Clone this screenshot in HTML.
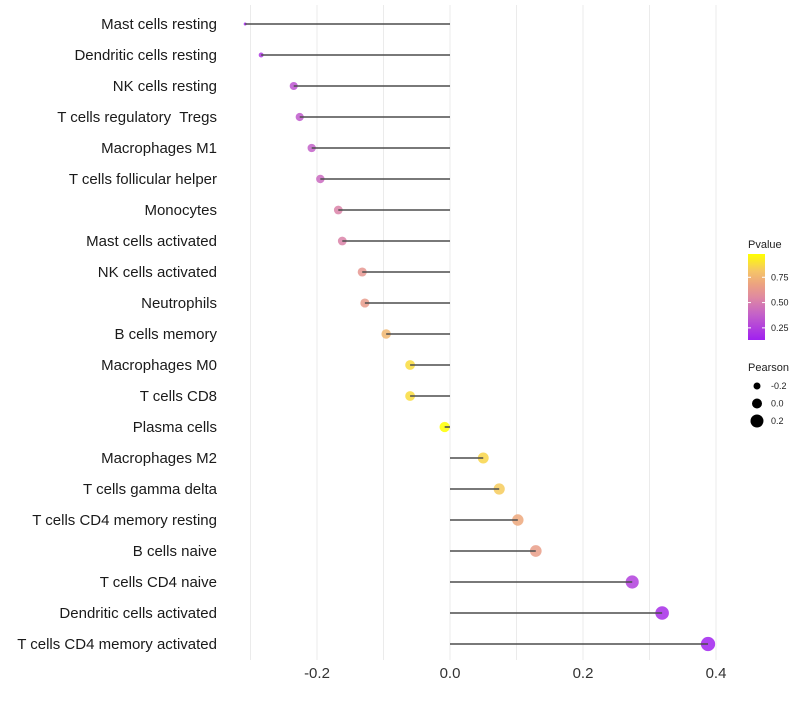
<!DOCTYPE html>
<html><head><meta charset="utf-8"><style>
body{margin:0;background:#fff;font-family:"Liberation Sans",sans-serif}
text{white-space:pre}
</style></head><body>
<svg id="c" width="800" height="700" xmlns="http://www.w3.org/2000/svg"></svg>
<script>
const categories=["Mast cells resting","Dendritic cells resting","NK cells resting","T cells regulatory  Tregs","Macrophages M1","T cells follicular helper","Monocytes","Mast cells activated","NK cells activated","Neutrophils","B cells memory","Macrophages M0","T cells CD8","Plasma cells","Macrophages M2","T cells gamma delta","T cells CD4 memory resting","B cells naive","T cells CD4 naive","Dendritic cells activated","T cells CD4 memory activated"];
const pearson=[-0.308,-0.284,-0.235,-0.226,-0.208,-0.195,-0.168,-0.162,-0.132,-0.128,-0.096,-0.060,-0.060,-0.008,0.050,0.074,0.102,0.129,0.274,0.319,0.388];
const pvalue=[0.15,0.22,0.33,0.35,0.38,0.42,0.52,0.52,0.62,0.64,0.76,0.88,0.88,0.98,0.86,0.83,0.70,0.65,0.25,0.18,0.14];
const xTicks=[-0.2,0.0,0.2,0.4];
const xTickLabels=["-0.2","0.0","0.2","0.4"];
const legendP=[0.75,0.50,0.25];
const legendPearson=[-0.2,0.0,0.2];

const svg=document.getElementById('c');const NS="http://www.w3.org/2000/svg";
function mk(t,a,p){const e=document.createElementNS(NS,t);for(const k in a)e.setAttribute(k,a[k]);(p||svg).appendChild(e);return e;}
const x=v=>450+v*665;
const y=i=>24+i*31;
const pMin=0.13,pMax=0.98;
const stops=[[0,[160,32,240]],[0.3,[196,98,200]],[0.5,[224,138,160]],[0.65,[236,163,128]],[0.8,[245,196,104]],[1,[255,255,0]]];
function col(p){let t=Math.max(0,Math.min(1,(p-pMin)/(pMax-pMin)));
 for(let k=1;k<stops.length;k++){if(t<=stops[k][0]){const a=stops[k-1],b=stops[k];const u=(t-a[0])/(b[0]-a[0]);const c=a[1].map((v,i)=>Math.round(v+(b[1][i]-v)*u));return `rgb(${c[0]},${c[1]},${c[2]})`;}}
 return 'rgb(255,255,0)';}
const rad=v=>Math.max(1.5,Math.min(1.5+(v+0.308)*40,5.2+5*v));
for(let g=-0.3;g<=0.41;g+=0.1){const l=mk('line',{x1:x(g),x2:x(g),y1:5,y2:660,stroke:'#ebebeb','stroke-width':1});}
categories.forEach((c,i)=>{
 const t=mk('text',{x:217,y:y(i)+5,'text-anchor':'end','font-size':15,fill:'#1a1a1a'});t.textContent=c;
 
 const p=mk('circle',{cx:x(pearson[i]),cy:y(i),r:rad(pearson[i]),fill:col(pvalue[i]),'fill-opacity':0.85});
 
 const s=mk('line',{x1:x(0),x2:x(pearson[i]),y1:y(i),y2:y(i),stroke:'#4d4d4d','stroke-width':1.6});
 
});
xTicks.forEach((v,i)=>{const t=mk('text',{x:x(v),y:678,'text-anchor':'middle','font-size':15,fill:'#333'});t.textContent=xTickLabels[i];
 });
const lt=mk('text',{x:748,y:248,'font-size':11,fill:'#222'});lt.textContent='Pvalue';
const defs=mk('defs',{});const gr=mk('linearGradient',{id:'g',x1:0,y1:1,x2:0,y2:0},defs);
[0,0.15,0.3,0.4,0.5,0.65,0.8,0.9,1].forEach(o=>mk('stop',{offset:o,'stop-color':col(pMin+o*(pMax-pMin))},gr));
const bar=mk('rect',{x:748,y:254,width:17,height:86,fill:'url(#g)'});
const by=p=>340-(p-pMin)/(pMax-pMin)*86;
legendP.forEach(p=>{mk('line',{x1:748,x2:751,y1:by(p),y2:by(p),stroke:'#fff'});mk('line',{x1:762,x2:765,y1:by(p),y2:by(p),stroke:'#fff'});
 const t=mk('text',{x:771,y:by(p)+3,'font-size':9,fill:'#222'});t.textContent=p.toFixed(2);});
const pt=mk('text',{x:748,y:371,'font-size':11,fill:'#222'});pt.textContent='Pearson';
const legR=[3.5,5,6.5];
legendPearson.forEach((v,i)=>{const cy=386+i*17.5;const c=mk('circle',{cx:757,cy:cy,r:legR[i],fill:'#000'});
 const t=mk('text',{x:771,y:cy+3,'font-size':9,fill:'#222'});t.textContent=v.toFixed(1);});
</script>
</body></html>
